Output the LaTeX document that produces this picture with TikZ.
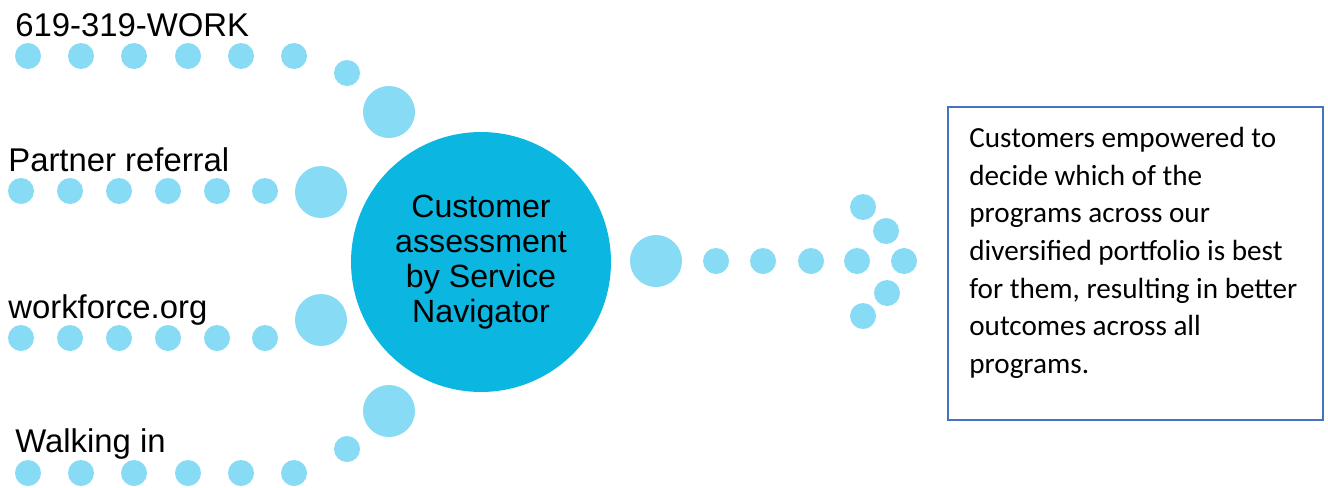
\documentclass[tikz,border=0pt]{standalone}
\usepackage{fontspec}
\setmainfont{Liberation Sans}
\newfontfamily\boxfont{Carlito}
\usepackage{tikz}

\definecolor{dotblue}{RGB}{136,219,245}
\definecolor{hubblue}{RGB}{11,183,224}
\definecolor{framblue}{RGB}{68,114,196}

\tikzset{
  smalldot/.style={fill=dotblue},
  label/.style={anchor=base west,inner sep=0pt,font=\fontsize{18.7}{20}\selectfont},
}

\begin{document}
\begin{tikzpicture}[x=0.02cm,y=-0.02cm] % Entry routes to the navigator
  \useasboundingbox (0,0) rectangle (1328,487);
  % the four dotted routes
  \foreach \x in {28,81,134,188,241,294} {
    \fill[smalldot] (\x,56) circle (13);
    \fill[smalldot] (\x,473) circle (13);
  }
  \foreach \x in {21,70,119,168,217,265} {
    \fill[smalldot] (\x,191) circle (13);
    \fill[smalldot] (\x,338) circle (13);
  }
  \fill[smalldot] (347,73) circle (13);
  \fill[smalldot] (347,449) circle (13);
  \fill[smalldot] (389,112) circle (26);
  \fill[smalldot] (389,411) circle (26);
  \fill[smalldot] (321,192) circle (26);
  \fill[smalldot] (321,320) circle (26);
  \node[label] (work) at (15,36) {619-319-WORK};
  \node[label] (partner) at (8,171) {Partner referral};
  \node[label] (web) at (8,318) {workforce.org};
  \node[label] (walkin) at (15,452) {Walking in};
  % navigator
  \node[circle,fill=hubblue,minimum size=5.2cm,inner sep=0pt,align=center,
        font=\fontsize{18.3}{19.8}\selectfont] (hub) at (481,262)
        {Customer\\assessment\\by Service\\Navigator};
  % arrow made of dots
  \fill[smalldot] (656,261) circle (26);
  \foreach \x in {716,763,811,857,904}
    \fill[smalldot] (\x,261) circle (13);
  \fill[smalldot] (863,207) circle (13);
  \fill[smalldot] (886,231) circle (13);
  \fill[smalldot] (887,293) circle (13);
  \fill[smalldot] (863,316) circle (13);
  % outcome
  \draw[framblue,line width=1.1pt] (948,107) rectangle (1323,420);
  \node[anchor=north west,inner sep=0pt,align=left,
        font=\boxfont\fontsize{16.6}{21.4}\selectfont] (outcome) at (969,127)
        {Customers empowered to\\decide which of the\\programs across our\\diversified portfolio is best\\for them, resulting in better\\outcomes across all\\programs.};
\end{tikzpicture}
\end{document}
